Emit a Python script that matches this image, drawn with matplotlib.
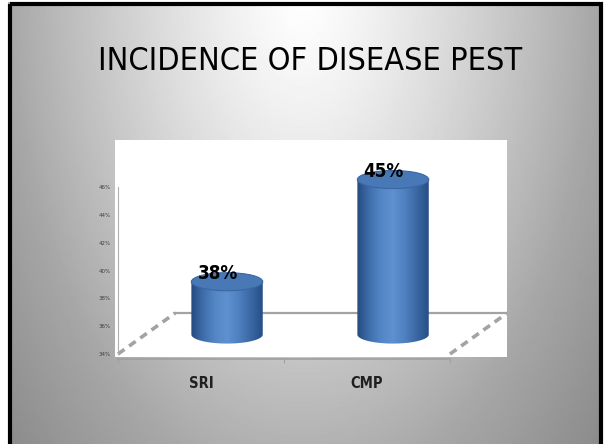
import numpy as np
import matplotlib
matplotlib.use("Agg")
import matplotlib.pyplot as plt
from matplotlib.colors import LinearSegmentedColormap
from matplotlib.patches import Polygon, Ellipse, Rectangle

categories = ["SRI", "CMP"]
values = [38, 45]
value_labels = ["38%", "45%"]
y_ticks = [34, 36, 38, 40, 42, 44, 46]
y_tick_labels = ["34%", "36%", "38%", "40%", "42%", "44%", "46%"]
title = "INCIDENCE OF DISEASE PEST"

W, H = 607, 444
NARROW = ["DejaVu Sans"]

fig = plt.figure(figsize=(W / 100, H / 100), dpi=100, facecolor="white")

# slide background (radial grey gradient + black frame)
bg = fig.add_axes([0, 0, 1, 1])
bg.axis("off")
xx, yy = np.meshgrid(np.arange(8, 602) + 0.5, np.arange(3, H) + 0.5)
d = np.sqrt(((xx - 303) / 300) ** 2 + ((yy + 10) / 520) ** 2)
shade = np.where(d < 0.96, 1 - 0.355 * d ** 1.25, 0.66 - 0.32 * (d - 0.96))
bg.imshow(np.clip(shade, 0, 1), cmap="gray", vmin=0, vmax=1, extent=[8, 602, H, 3],
          aspect="auto", interpolation="bilinear")
bg.add_patch(Rectangle((9.5, 4.5), 591, H, fill=False, edgecolor="black", lw=3))
bg.set_xlim(0, W)
bg.set_ylim(H, 0)

fig.text(310 / W, 1 - 70 / H, title, ha="center", va="baseline",
         fontsize=23.2, family=NARROW, stretch="condensed", color="black")

# chart area
px_per_pct = 13.9
px_per_cat = 166
ax = fig.add_axes([115 / W, 1 - 357 / H, 392 / W, 217 / H])
ax.set_facecolor("white")
ylo = 34 - 3 / px_per_pct
yhi = 34 + 214 / px_per_pct
xlo = -3 / px_per_cat
xhi = 389 / px_per_cat

# floor: back edge and dashed sides
depth_dx, depth_dy = 0.345, 2.95
floor_c = "#a3a3a3"
ax.plot([depth_dx, 2 + depth_dx], [34 + depth_dy] * 2, color=floor_c, lw=1.6, zorder=1)
for x0 in [0, 2]:
    ax.plot([x0, x0 + depth_dx], [34, 34 + depth_dy], color=floor_c, lw=2.6,
            dashes=(2.2, 1.6), zorder=1, solid_capstyle="butt")

cyl_cmap = LinearSegmentedColormap.from_list(
    "cyl", ["#25497d", "#3e6dab", "#5486c6", "#5f91d0", "#4f80bf", "#3a68a4", "#274e86"])
cyl_w, ell_h = 0.43, 1.3
base_y = 35.4
for i, v in enumerate(values):
    xc = i + 0.5 + 0.157
    top = 35 + (v - 34) * 1.05
    t = np.linspace(np.pi, 2 * np.pi, 80)
    verts = list(zip(xc + cyl_w / 2 * np.cos(t), base_y + ell_h / 2 * np.sin(t)))
    verts += [(xc + cyl_w / 2, top), (xc - cyl_w / 2, top)]
    clip = Polygon(verts, closed=True, facecolor="none", edgecolor="none")
    ax.add_patch(clip)
    im = ax.imshow(np.linspace(0, 1, 256).reshape(1, -1), cmap=cyl_cmap,
                   extent=[xc - cyl_w / 2, xc + cyl_w / 2, base_y - ell_h / 2, top],
                   aspect="auto", origin="lower", zorder=3, interpolation="bilinear")
    im.set_clip_path(clip)
    ax.add_patch(Ellipse((xc, top), cyl_w, ell_h, facecolor="#4878b6",
                         edgecolor="#3a66a2", lw=0.8, zorder=4))
    ax.text(i + 0.6, top + 0.6, value_labels[i], ha="center", va="center",
            fontsize=13.5, fontweight="bold", family=NARROW, stretch="condensed",
            color="black", zorder=5)

ax.set_xlim(xlo, xhi)
ax.set_ylim(ylo, yhi)

for s in ["top", "right"]:
    ax.spines[s].set_visible(False)
ax.spines["left"].set_position(("data", 0))
ax.spines["left"].set_bounds(34, 46)
ax.spines["left"].set_color("#b0b0b0")
ax.spines["bottom"].set_position(("data", 34 - 5 / px_per_pct))
ax.spines["bottom"].set_bounds(0, 2)
ax.spines["bottom"].set_color("#a0a0a0")
ax.spines["bottom"].set_linewidth(1.2)

ax.set_yticks(y_ticks)
ax.set_yticklabels(y_tick_labels, fontsize=4, color="#404040")
ax.tick_params(axis="y", length=0, pad=5)

ax.set_xticks([0, 1, 2])
ax.set_xticklabels([])
ax.tick_params(axis="x", which="major", length=3, color="#a0a0a0", direction="out")
ax.set_xticks([0.5, 1.5], minor=True)
ax.set_xticklabels(categories, minor=True, fontsize=10.5, fontweight="bold",
                   family=NARROW, stretch="condensed", color="#202020")
ax.tick_params(axis="x", which="minor", length=0, pad=12)

fig.savefig("out.png", dpi=100, facecolor="white")
